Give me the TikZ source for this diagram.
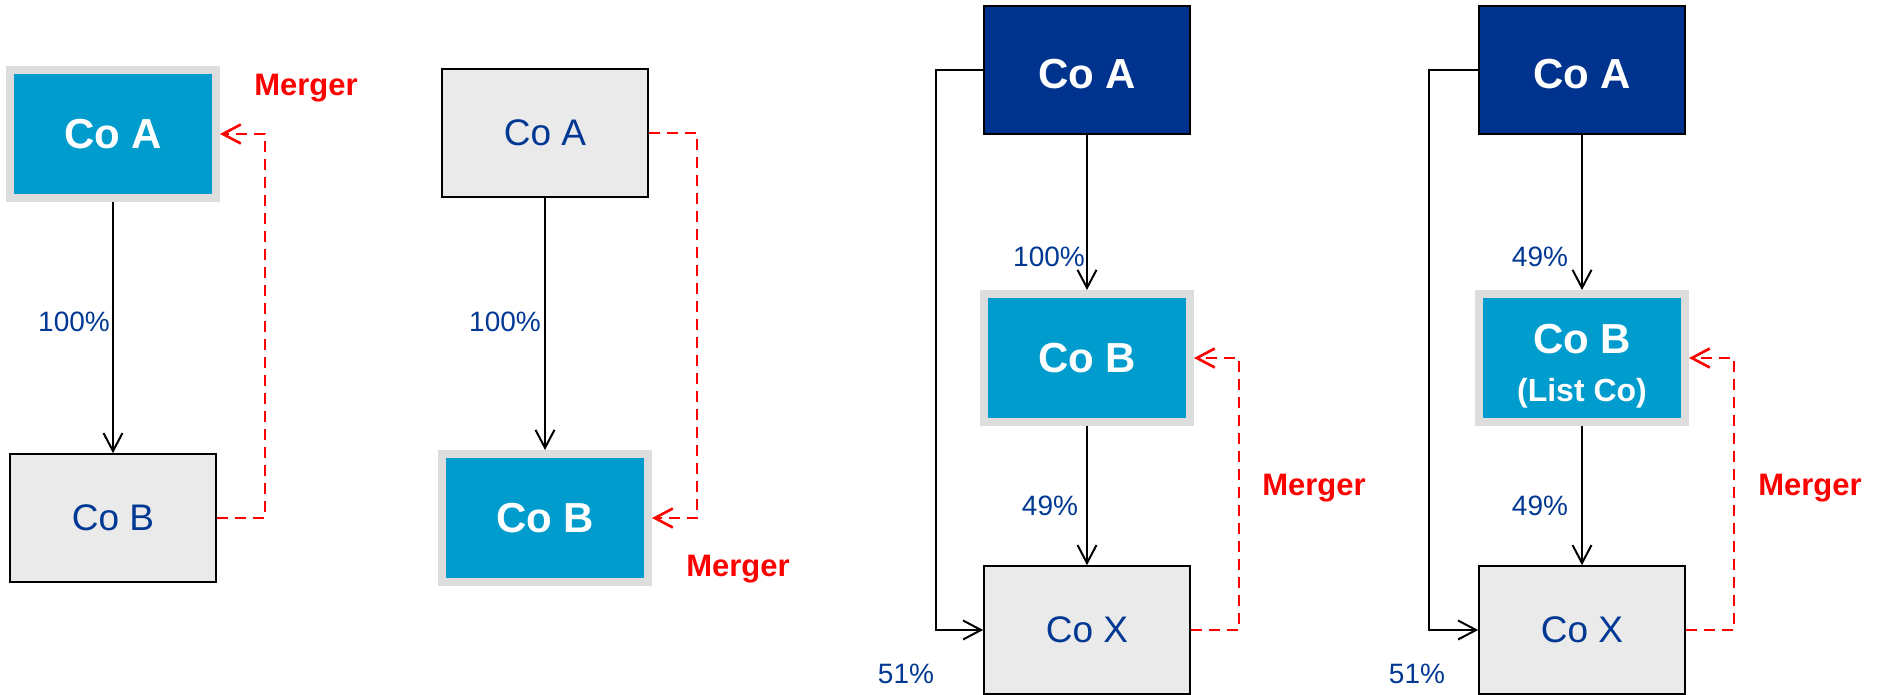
\documentclass[tikz,border=0pt]{standalone}
\usepackage{fontspec}
\setmainfont{Liberation Sans}
\usetikzlibrary{arrows.meta}
\definecolor{coblue}{RGB}{0,156,205}
\definecolor{conavy}{RGB}{0,51,141}
\definecolor{cogrey}{RGB}{234,234,234}
\definecolor{coframe}{RGB}{221,221,221}
\definecolor{cotext}{RGB}{0,56,147}
\tikzset{
	cobox/.style={minimum width=103pt,minimum height=64pt,inner sep=0pt,align=center},
	greybox/.style={cobox,draw=black,line width=0.8pt,fill=cogrey,text=cotext,font=\fontsize{18.5}{22}\selectfont},
	bluebox/.style={cobox,draw=coframe,line width=4pt,outer sep=2pt,fill=coblue,text=white,font=\fontsize{21}{20}\selectfont\bfseries},
	navybox/.style={cobox,draw=black,line width=0.8pt,fill=conavy,text=white,text height=19pt,text depth=0pt,font=\fontsize{21}{25}\selectfont\bfseries},
	own/.style={line width=1pt,-{Straight Barb[length=9pt,width=9.5pt]}},
	merge/.style={red,line width=1.3pt,dash pattern=on 5.5pt off 3.5pt,-{Straight Barb[length=9pt,width=9.5pt]}},
	pct/.style={text=cotext,font=\fontsize{14}{17}\selectfont,inner sep=0pt},
	mlabel/.style={text=red,font=\fontsize{15.5}{18}\selectfont\bfseries,inner sep=0pt}
}
\begin{document}
\begin{tikzpicture}[x=0.5pt,y=0.5pt,yscale=-1,xscale=1]
		\useasboundingbox (0,0) rectangle (1881,695);
		
		%Panel 1: Co A absorbs Co B
		\node [bluebox] (A1) at (113,134) {Co A};
		\node [greybox] (B1) at (113,518) {Co B};
		\draw [own] (A1.south) -- (B1.north);
		\draw [merge] (B1.east) -- ++(48,0) |- (A1.east);
		% Text Node
		\node [pct] (p1) at (74,322) {100\%};
		% Text Node
		\node [mlabel] (m1) at (306,88) {Merger};
		
		%Panel 2: Co B absorbs Co A
		\node [greybox] (A2) at (545,133) {Co A};
		\node [bluebox] (B2) at (545,518) {Co B};
		\draw [own] (A2.south) -- (B2.north);
		\draw [merge] (A2.east) -- ++(48,0) |- (B2.east);
		% Text Node
		\node [pct] (p2) at (505,322) {100\%};
		% Text Node
		\node [mlabel] (m2) at (738,569) {Merger};
		
		%Panel 3: Co B absorbs Co X
		\node [navybox] (A3) at (1087,70) {Co A};
		\node [bluebox] (B3) at (1087,358) {Co B};
		\node [greybox] (X3) at (1087,630) {Co X};
		\draw [own] (A3.south) -- (B3.north);
		\draw [own] (B3.south) -- (X3.north);
		\draw [own] (A3.west) -- ++(-47,0) |- (X3.west);
		\draw [merge] (X3.east) -- ++(48,0) |- (B3.east);
		% Text Node
		\node [pct] (p3a) at (1049,257) {100\%};
		% Text Node
		\node [pct] (p3b) at (1050,506) {49\%};
		% Text Node
		\node [pct] (p3c) at (906,674) {51\%};
		% Text Node
		\node [mlabel] (m3) at (1314,488) {Merger};
		
		%Panel 4: listed Co B absorbs Co X
		\node [navybox] (A4) at (1582,70) {Co A};
		\node [bluebox] (B4) at (1582,358) {\rule{0pt}{23pt}Co B\\[4pt]{\fontsize{16}{19}\selectfont (List Co)}};
		\node [greybox] (X4) at (1582,630) {Co X};
		\draw [own] (A4.south) -- (B4.north);
		\draw [own] (B4.south) -- (X4.north);
		\draw [own] (A4.west) -- ++(-49,0) |- (X4.west);
		\draw [merge] (X4.east) -- ++(48,0) |- (B4.east);
		% Text Node
		\node [pct] (p4a) at (1540,257) {49\%};
		% Text Node
		\node [pct] (p4b) at (1540,506) {49\%};
		% Text Node
		\node [pct] (p4c) at (1417,674) {51\%};
		% Text Node
		\node [mlabel] (m4) at (1810,488) {Merger};
\end{tikzpicture}
\end{document}
